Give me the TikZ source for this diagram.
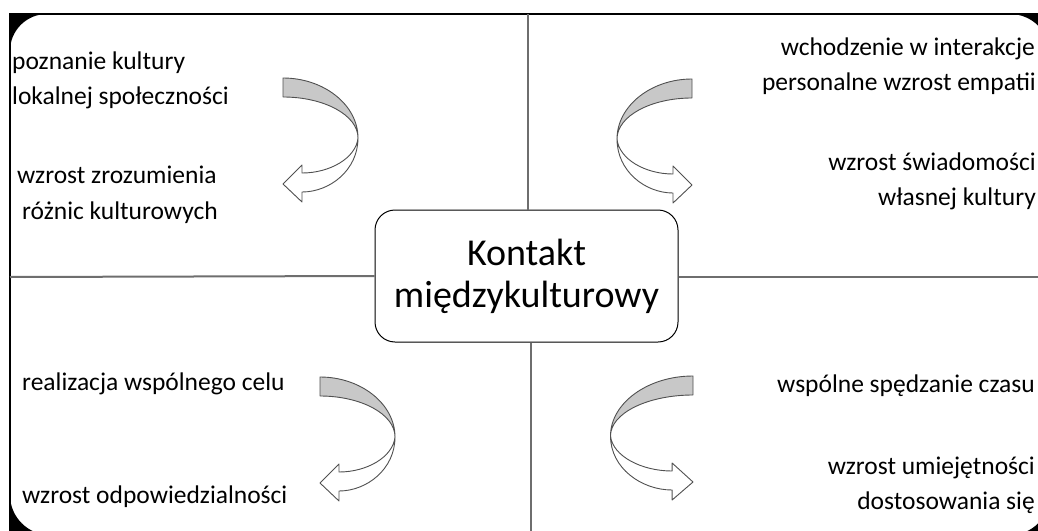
\documentclass[tikz,border=0pt]{standalone}
\usepackage{fontspec}
\setmainfont{Carlito}
\definecolor{edgegray}{HTML}{6E6E6E}
\definecolor{bandgray}{HTML}{C8C8C8}
\definecolor{ribbonline}{HTML}{505050}
\newcommand{\twistarrow}{%
  \fill[bandgray] (0,0) -- (0,19) .. controls (41,19) and (75,37) .. (75,60)
     .. controls (75,27) and (41,0) .. (0,0) -- cycle;
  \draw[ribbonstroke] (0,0) -- (0,19) .. controls (41,19) and (75,37) .. (75,60)
     .. controls (75,27) and (41,0) .. (0,0) -- cycle;
  \draw[ribbonstroke, fill=white] (75,60) .. controls (75,92) and (47,114) .. (19,114)
     -- (19,124) -- (0,106) -- (19,87) -- (19,95)
     .. controls (47,95) and (73,80) .. (75,60) -- cycle;
}
\begin{document}
\begin{tikzpicture}[x=1pt,y=-1pt,
  ribbonstroke/.style={draw=ribbonline, line width=0.9pt, line join=round},
  lab/.style={inner sep=0pt, font=\fontsize{25.5}{30}\selectfont, text=black},
  divider/.style={draw=edgegray, line width=2pt},
  frame/.style={draw=black, line width=2pt},
  hub/.style={draw=black, line width=1pt, rounded corners=20pt, fill=white,
    minimum width=303pt, minimum height=132pt, align=center,
    font=\fontsize{38}{42}\selectfont}]
\useasboundingbox (0,0) rectangle (1038,530);
\clip (0,0) rectangle (1038,530);
% black corners
\fill[black] (10,14) -- (47,14) .. controls (26.6,14) and (10,30.4) .. (10,51) -- cycle;
\fill[black] (1050,14) -- (1010,14) .. controls (1032,14) and (1050,32) .. (1050,54) -- cycle;
\fill[black] (10,535) -- (10,495) .. controls (10,517) and (28,535) .. (50,535) -- cycle;
\fill[black] (1050,535) -- (1010,535) .. controls (1032,535) and (1050,517) .. (1050,495) -- cycle;
% frame
\coordinate (tl) at (10,14);
\coordinate (tr) at (1045,14);
\coordinate (ml) at (10,277);
\coordinate (bl) at (10,535);
\draw[frame] (tr) -- (tl) -- (ml);
\draw[draw=black, line width=1.2pt] (ml) -- (bl);
% hub
\node[hub] (hub) at (526.5,276) {Kontakt\\międzykulturowy};
% dividers
\coordinate (topmid) at (528,14);
\coordinate (botmid) at (531,535);
\coordinate (rmid) at (1045,277);
\draw[divider] (topmid) -- (topmid |- hub.north);
\draw[divider] (botmid) -- (botmid |- hub.south);
\draw[divider] (ml) -- (hub.west);
\draw[divider] (hub.east |- rmid) -- (rmid);
% labels
\node[lab, anchor=base west] (a1) at (12,69) {poznanie kultury};
\node[lab, anchor=base west] (a2) at (12,104) {lokalnej społeczności};
\node[lab, anchor=base west] (a3) at (17,183) {wzrost zrozumienia};
\node[lab, anchor=base west] (a4) at (22,219) {różnic kulturowych};
\node[lab, anchor=base east] (b1) at (1035,55) {wchodzenie w interakcje};
\node[lab, anchor=base east] (b2) at (1036,90) {personalne wzrost empatii};
\node[lab, anchor=base east] (b3) at (1036,170) {wzrost świadomości};
\node[lab, anchor=base east] (b4) at (1036,205) {własnej kultury};
\node[lab, anchor=base west] (c1) at (22,390) {realizacja wspólnego celu};
\node[lab, anchor=base west] (c2) at (22,503) {wzrost odpowiedzialności};
\node[lab, anchor=base east] (d1) at (1035,392) {wspólne spędzanie czasu};
\node[lab, anchor=base east] (d2) at (1035,474) {wzrost umiejętności};
\node[lab, anchor=base east] (d3) at (1035,509) {dostosowania się};
% twisted arrows
\begin{scope}[shift={(283,78)}]\twistarrow\end{scope}
\begin{scope}[shift={(320,377)}]\twistarrow\end{scope}
\begin{scope}[shift={(692,79)}, xscale=-1]\twistarrow\end{scope}
\begin{scope}[shift={(693,376)}, xscale=-1.1]\twistarrow\end{scope}
\end{tikzpicture}
\end{document}
